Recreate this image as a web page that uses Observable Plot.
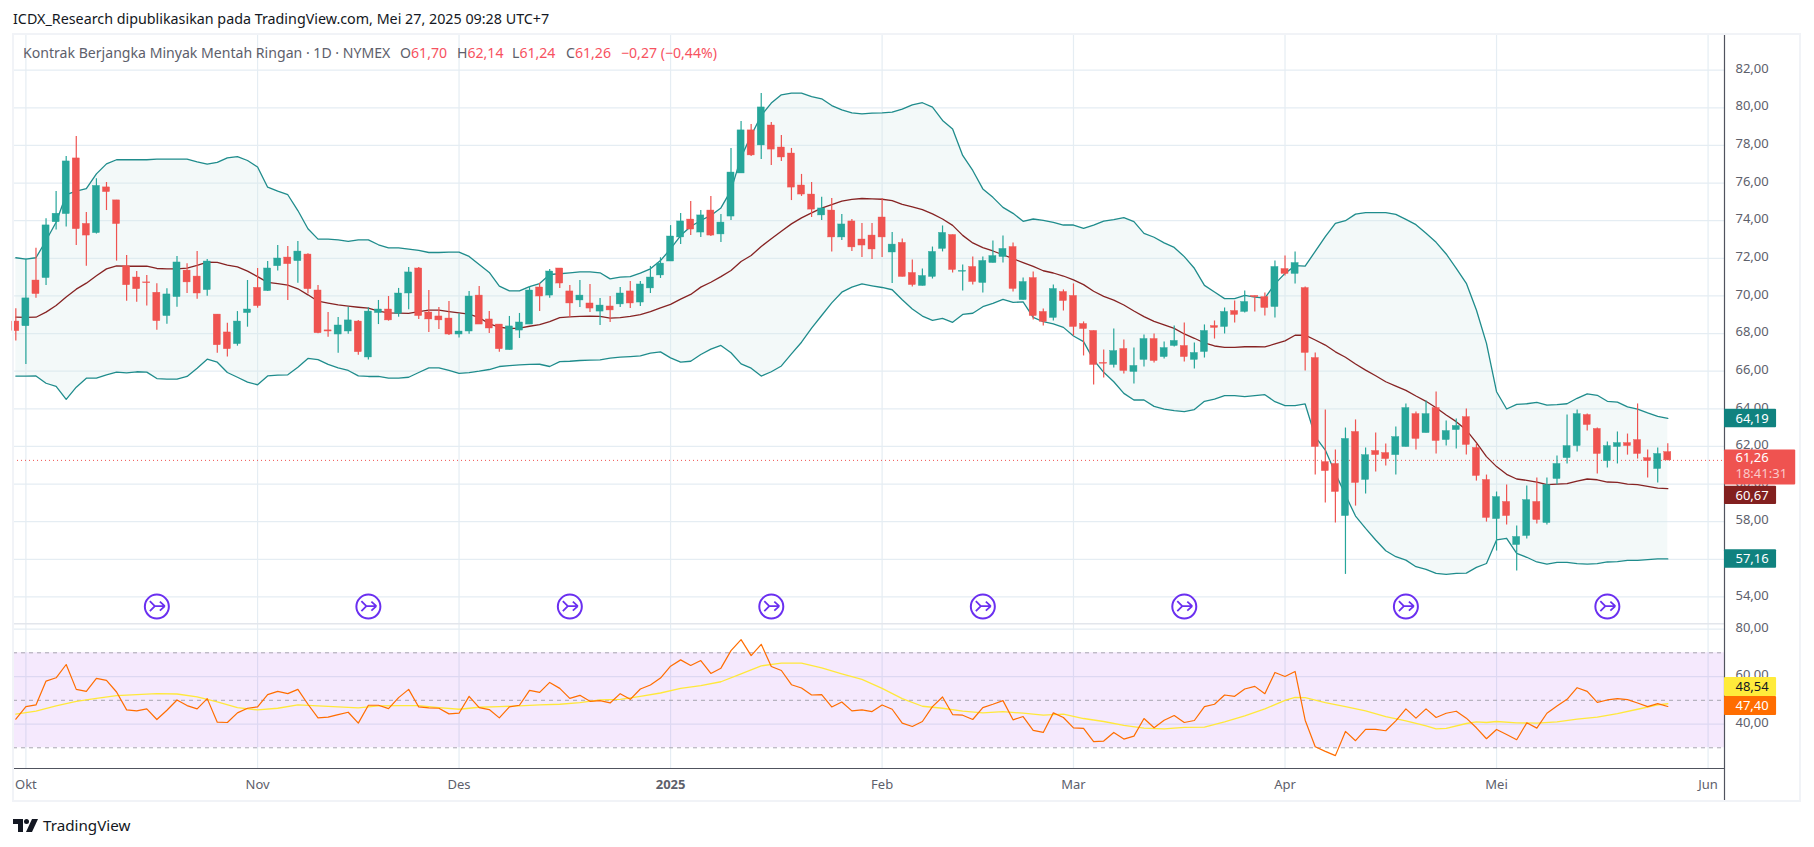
<!DOCTYPE html>
<html>
<head>
<meta charset="utf-8">
<script src="https://cdn.jsdelivr.net/npm/d3@7"></script>
<script src="https://cdn.jsdelivr.net/npm/@observablehq/plot@0.6"></script>
<style>
  html,body{margin:0;padding:0;background:#fff;}
  body{position:relative;width:1814px;height:847px;overflow:hidden;font-family:"Noto Sans",sans-serif;}
  #title{position:absolute;left:13px;top:9px;font-size:14.3px;line-height:20px;color:#131722;white-space:nowrap;}
  #legend{position:absolute;left:23px;top:43px;font-size:14.1px;line-height:20px;color:#5d606b;white-space:nowrap;z-index:3;}
  #legend b{font-weight:400;color:#f7525f;}
  #legend i{font-style:normal;display:inline-block;}
  #frame{position:absolute;left:12px;top:33px;width:1789px;height:769px;box-sizing:border-box;border:2px solid #f1f3f7;z-index:2;pointer-events:none;}
  #price,#rsi{position:absolute;left:0;}
  #price{top:33px;} #rsi{top:623px;}
  #brand{position:absolute;left:13px;top:815px;display:flex;align-items:center;font-size:15.2px;color:#131722;}
  #brand svg{margin-right:5px;}
</style>
</head>
<body>
<div id="title">ICDX_Research dipublikasikan pada TradingView.com, Mei 27, 2025 09:28 UTC+7</div>
<div id="legend"><i style="width:377px">Kontrak Berjangka Minyak Mentah Ringan · 1D · NYMEX</i><i style="width:57px">O<b>61,70</b></i><i style="width:55px">H<b>62,14</b></i><i style="width:54px">L<b>61,24</b></i><i style="width:55px">C<b>61,26</b></i><i><b>−0,27 (−0,44%)</b></i></div>
<div id="price"></div>
<div id="rsi"></div>
<div id="frame"></div>
<div id="brand"><svg width="25" height="13" viewBox="0 0 25 13"><path fill="#131722" d="M0 0H10V13H5V5H0Z"/><circle fill="#131722" cx="13.5" cy="2.5" r="2.5"/><path fill="#131722" d="M19 0H25L19 13H13Z"/></svg>TradingView</div>
<script>
const opens = [68.64,68.39,70.82,70.95,73.92,74.35,77.31,73.83,73.34,75.77,
75.08,71.57,70.98,70.72,70.17,68.93,69.94,71.35,71.03,70.31,
69.01,68.06,67.44,69.09,70.43,70.26,71.58,72.04,71.85,72.20,
70.29,68.17,67.95,68.11,68.64,66.73,69.09,69.28,69.05,70.13,
71.46,69.12,68.91,68.80,67.95,68.11,70.02,68.75,68.48,67.12,
68.16,68.48,70.45,70.02,71.46,70.24,69.76,69.60,69.17,69.44,
69.55,70.24,69.65,70.40,71.09,71.83,73.11,74.06,73.37,74.54,
73.27,74.22,76.51,78.80,78.00,79.06,77.89,77.57,75.87,75.39,
74.28,74.54,73.11,73.96,73.00,73.21,74.17,72.31,72.82,71.22,
70.53,71.01,72.50,73.24,71.29,71.54,70.69,71.75,72.07,72.60,
69.78,70.95,69.15,68.83,70.21,70.00,68.51,68.14,66.44,66.33,
67.18,65.96,66.60,67.71,66.75,67.34,67.34,66.60,67.02,68.40,
68.35,69.20,69.15,70.00,69.94,69.41,71.43,71.17,70.42,66.70,
61.17,61.07,58.30,62.77,60.22,61.76,61.65,61.54,61.97,63.72,
62.71,64.04,62.34,62.87,63.56,61.92,60.22,58.14,59.05,56.76,
57.24,59.05,57.93,60.27,61.38,62.02,63.67,62.93,61.22,61.97,
62.18,62.34,61.38,60.80,61.70];
const highs = [69.32,71.97,72.54,74.10,75.55,77.41,78.48,74.44,76.23,76.03,
75.08,72.15,71.30,71.09,70.65,70.38,72.10,71.71,72.36,71.94,
69.01,68.55,69.17,70.82,71.46,71.83,72.68,72.63,72.90,72.24,
70.56,69.12,68.86,69.40,68.70,69.37,69.76,69.97,70.40,71.51,
71.51,70.29,69.39,69.71,69.05,70.24,70.50,69.17,68.48,68.91,
69.07,70.50,70.66,71.41,71.46,70.55,70.82,70.61,69.86,69.97,
70.45,70.77,70.77,71.57,72.03,73.74,74.38,75.02,74.54,75.29,
74.33,77.84,79.27,79.11,80.76,79.22,78.53,77.84,76.46,76.03,
75.24,75.18,74.33,74.06,73.85,73.85,75.18,73.37,73.03,71.91,
71.43,72.60,73.72,73.24,71.65,72.07,72.07,72.92,73.19,72.82,
70.95,71.27,69.31,70.58,70.32,70.64,68.62,68.14,67.13,68.24,
67.66,67.23,67.92,67.98,67.55,68.40,68.56,67.50,68.46,68.67,
69.36,69.73,70.26,70.00,70.16,71.86,72.12,72.34,70.48,66.97,
63.94,61.81,62.98,63.41,61.92,62.71,62.13,63.03,64.26,63.83,
64.41,64.89,63.35,63.46,63.99,62.13,60.48,59.58,59.95,57.77,
59.90,60.32,60.32,61.49,63.67,63.94,63.72,62.98,62.24,62.77,
62.66,64.26,61.81,61.92,62.14];
const lows = [67.60,66.36,69.88,70.56,73.50,73.66,72.68,71.58,73.29,74.54,
71.85,69.72,69.67,69.46,68.18,68.50,69.40,70.13,69.83,69.99,
66.96,66.75,67.33,68.34,69.35,70.24,71.32,69.76,70.68,70.11,
67.99,67.81,66.96,67.97,66.85,66.59,68.48,68.66,68.87,69.26,
68.75,68.06,68.22,67.90,67.76,67.97,68.48,68.00,67.01,67.12,
67.74,68.48,69.17,69.88,70.40,68.85,69.39,69.12,68.43,68.59,
69.39,69.33,69.44,70.13,70.93,71.83,72.73,73.21,73.11,73.16,
72.84,74.01,76.51,77.41,77.25,76.93,77.15,75.07,75.29,74.17,
74.01,72.34,72.95,72.36,72.04,71.94,72.04,70.66,71.01,70.48,
70.53,70.90,72.34,71.22,70.26,70.58,70.16,71.75,71.75,70.21,
69.78,68.72,68.40,68.67,69.20,67.87,66.81,65.27,65.64,66.17,
65.85,65.32,66.22,66.44,66.65,67.29,66.49,66.12,66.70,67.71,
67.98,68.56,69.09,69.15,68.93,68.83,71.06,70.64,66.01,60.48,
58.99,57.93,55.20,58.83,59.47,60.64,60.96,60.48,61.97,61.81,
62.71,61.60,62.02,61.86,61.54,60.16,57.98,56.44,57.82,55.38,
57.08,57.88,57.82,59.95,61.07,61.70,62.82,60.53,60.85,61.07,
61.54,61.33,60.32,60.06,61.24];
const closes = [68.13,69.87,70.10,73.75,74.37,77.15,73.55,73.21,75.85,75.52,
73.82,70.57,70.36,70.68,68.66,70.08,71.78,70.72,70.13,71.83,
67.38,67.17,68.64,69.28,69.46,71.46,71.99,71.69,72.36,70.36,
68.02,68.11,68.43,68.70,67.01,69.17,69.28,68.70,70.13,71.25,
68.93,68.75,68.70,67.95,68.11,69.97,68.48,68.27,67.17,68.38,
68.59,70.29,69.97,71.30,70.66,69.60,70.02,69.33,69.49,69.23,
70.13,69.60,70.61,70.98,71.72,73.16,73.96,73.53,74.28,73.21,
73.90,76.56,78.80,77.47,80.02,77.78,77.36,75.76,75.39,74.59,
74.65,73.11,73.80,72.58,72.68,72.47,73.11,72.73,71.01,70.58,
71.06,72.34,73.35,71.38,71.33,70.74,71.86,72.12,72.50,70.37,
70.74,68.93,68.62,70.37,69.73,68.35,68.24,66.33,66.40,67.07,
66.01,66.28,67.71,66.54,67.23,67.61,66.75,66.97,68.14,68.30,
69.15,68.99,69.68,69.93,69.36,71.54,71.17,71.75,66.97,61.97,
60.69,59.58,62.40,60.06,61.54,61.54,61.33,62.50,64.04,62.40,
63.72,62.29,62.82,63.09,62.08,60.43,58.20,59.31,58.30,57.19,
59.15,58.09,59.95,61.07,62.02,63.72,63.14,61.60,62.02,62.18,
62.02,61.60,61.22,61.60,61.26];
const bbUpper = [72.03,71.96,72.03,72.95,73.92,75.38,75.57,75.70,76.49,77.02,
77.24,77.24,77.24,77.24,77.27,77.27,77.27,77.27,77.13,77.01,
77.10,77.34,77.41,77.20,76.85,75.78,75.57,75.38,74.54,73.57,
73.02,73.02,72.98,72.90,72.98,72.98,72.72,72.56,72.56,72.49,
72.42,72.31,72.31,72.33,72.33,72.10,71.67,71.25,70.52,70.27,
70.27,70.50,70.66,71.14,71.18,71.23,71.28,71.28,71.23,70.91,
71.00,71.03,71.21,71.44,71.88,72.50,73.21,73.69,74.01,74.28,
74.68,75.61,77.38,78.53,79.59,80.25,80.69,80.78,80.78,80.60,
80.48,80.12,79.89,79.73,79.68,79.72,79.73,79.77,79.93,80.16,
80.27,80.04,79.33,78.87,77.47,76.67,75.69,75.24,74.71,74.39,
73.97,74.09,74.02,73.91,73.77,73.77,73.59,73.77,73.98,74.06,
74.16,73.95,73.33,73.12,72.82,72.58,72.09,71.47,70.56,70.21,
69.86,69.86,70.03,69.94,69.89,70.64,71.20,71.61,71.59,72.37,
73.15,73.86,74.00,74.35,74.43,74.43,74.43,74.34,74.07,73.79,
73.33,72.85,72.23,71.47,70.67,69.25,67.48,64.91,63.99,64.24,
64.27,64.34,64.20,64.22,64.27,64.56,64.79,64.72,64.40,64.36,
64.10,63.99,63.78,63.60,63.49];
const bbBasis = [68.87,68.86,68.87,69.14,69.49,69.94,70.36,70.68,71.07,71.44,
71.60,71.58,71.58,71.58,71.46,71.44,71.44,71.48,71.62,71.80,
71.78,71.64,71.55,71.32,71.03,70.72,70.65,70.57,70.38,70.06,
69.72,69.62,69.53,69.46,69.40,69.35,69.19,69.10,69.09,69.07,
69.17,69.25,69.25,69.17,69.10,69.03,68.85,68.52,68.34,68.27,
68.29,68.39,68.48,68.64,68.85,68.89,68.91,68.92,68.91,68.82,
68.85,68.91,69.01,69.17,69.37,69.55,69.83,70.08,70.47,70.73,
71.03,71.35,71.83,72.15,72.63,73.04,73.44,73.83,74.15,74.42,
74.67,74.86,75.04,75.13,75.18,75.16,75.14,75.07,74.87,74.73,
74.59,74.36,74.09,73.75,73.22,72.82,72.57,72.39,72.19,71.98,
71.77,71.57,71.34,71.22,71.06,70.85,70.60,70.25,69.98,69.78,
69.52,69.20,68.90,68.65,68.46,68.28,67.98,67.75,67.50,67.34,
67.27,67.27,67.30,67.30,67.29,67.45,67.61,67.91,67.92,67.66,
67.39,67.03,66.74,66.38,66.06,65.76,65.44,65.21,64.98,64.68,
64.40,64.06,63.67,63.32,62.87,62.20,61.46,60.93,60.52,60.27,
60.20,60.11,59.97,60.00,60.02,60.16,60.27,60.23,60.11,60.09,
60.00,59.97,59.88,59.79,59.76];
const bbLower = [65.74,65.74,65.75,65.36,65.19,64.50,65.15,65.63,65.63,65.81,
65.95,65.91,65.97,65.95,65.61,65.58,65.58,65.72,66.16,66.64,
66.48,65.93,65.68,65.42,65.28,65.75,65.79,65.81,66.21,66.68,
66.62,66.36,66.18,66.04,65.75,65.72,65.72,65.63,65.63,65.68,
65.93,66.18,66.18,66.04,65.88,65.93,66.00,66.09,66.25,66.30,
66.34,66.36,66.37,66.25,66.51,66.53,66.57,66.59,66.60,66.69,
66.75,66.78,66.82,66.96,67.03,66.71,66.48,66.53,66.89,67.17,
67.37,66.98,66.39,66.16,65.74,65.97,66.28,66.92,67.54,68.29,
68.96,69.63,70.20,70.47,70.64,70.54,70.45,70.33,69.80,69.31,
68.93,68.70,68.81,68.60,69.02,69.08,69.43,69.61,69.82,69.66,
69.68,68.86,68.63,68.51,68.33,67.87,67.57,66.60,65.94,65.44,
64.82,64.47,64.47,64.13,63.99,63.90,63.85,63.96,64.40,64.52,
64.70,64.70,64.65,64.70,64.75,64.38,64.17,64.17,64.26,62.52,
61.81,60.57,59.42,58.30,57.65,57.03,56.46,56.14,55.96,55.61,
55.47,55.25,55.20,55.25,55.27,55.57,55.78,57.03,57.12,56.32,
56.11,55.86,55.75,55.84,55.84,55.77,55.75,55.77,55.86,55.88,
55.95,55.95,55.98,56.02,56.02];
const rsi = [42.05,47.35,48.05,58.09,59.49,65.07,54.60,53.77,59.21,58.37,
53.49,45.95,45.54,46.37,41.91,45.82,50.14,47.77,46.37,50.70,
40.79,40.65,44.70,46.65,47.21,52.37,53.77,52.79,54.60,48.33,
42.61,42.89,44.00,44.98,40.37,47.91,47.91,46.51,51.12,54.60,
47.21,46.79,46.65,44.28,44.56,51.67,46.93,46.09,42.61,47.21,
47.91,54.19,53.35,57.53,55.02,50.84,52.09,49.58,49.86,48.88,
52.79,50.42,54.74,56.42,59.35,64.37,67.02,64.65,66.74,61.30,
63.53,70.93,75.53,68.83,73.58,64.23,62.56,56.56,55.16,52.23,
52.37,47.21,49.30,45.54,45.95,45.26,48.05,46.23,40.37,38.98,
41.07,47.35,51.40,44.00,43.72,41.91,46.93,48.33,49.86,41.77,
43.16,37.31,36.47,44.70,42.75,38.42,38.14,32.56,32.84,36.47,
33.68,34.93,42.33,38.42,41.63,43.58,40.65,41.49,47.35,48.33,
52.23,51.67,54.74,55.86,52.79,61.72,60.04,62.14,41.63,30.47,
28.51,26.70,36.89,32.98,37.72,37.72,37.17,41.35,46.37,42.47,
46.37,42.75,44.56,45.40,42.47,38.42,33.82,37.72,35.63,33.40,
40.51,38.28,44.56,47.63,50.42,55.30,53.77,49.16,50.14,50.70,
50.28,48.88,47.35,48.60,47.40];
const rsiMaBars = [0,2,4,6,8,10,12,14,16,18,20,22,24,26,28,30,32,34,36,38,40,42,44,46,48,50,52,54,56,58,60,
62,64,66,68,70,72,74,76,78,80,82,84,86,88,90,92,94,96,98,100,102,104,106,108,110,112,114,116,118,120,122,124,126,127,128,
130,132,134,136,138,140,141,142,144,145,146,147,149,151,153,155,157,159,161,163,164];
const rsiMaValues = [44.14,45.40,47.63,49.58,50.84,51.95,52.37,52.79,52.65,51.40,49.30,46.93,45.95,46.65,48.05,47.63,47.21,46.79,47.63,47.77,47.77,46.93,46.23,47.07,47.35,47.63,48.05,48.33,49.02,50.14,50.42,
51.67,53.07,55.02,56.14,57.81,61.16,64.51,65.62,65.62,63.67,61.16,58.79,55.02,50.70,47.49,46.65,45.40,44.70,45.26,44.56,43.72,44.14,42.33,41.07,39.40,38.28,38.00,38.56,38.70,40.93,43.44,46.37,50.00,51.26,51.12,
49.02,47.35,45.54,43.16,41.35,39.26,38.00,38.14,40.23,40.93,40.65,41.07,40.51,40.37,40.93,42.05,42.89,44.42,46.23,48.05,48.54];

const monthBars = [1,24,44,86,105,126,147,168];
const monthNames = ["Okt","Nov","Des","Feb","Mar","Apr","Mei","Jun"];
const yearBars = [65];
const yearNames = ["2025"];
const eventBars = [14,35,55,75,96,116,138,158];
const priceTicks = [54,56,58,60,62,64,66,68,70,72,74,76,78,80,82];
const rsiTicks = [40,60,80];
const rsiDashed = [30,50,70];

const UP = "#26a69a", DOWN = "#ef5350", GRID = "#e5edf3", AXIS = "#50535e", TICK = "#5d606b";
const FONT = '"Noto Sans",sans-serif';
const xDomain = [-0.231, 169.63];
const labelEnd = 174.8, labelEndWide = 176.7;
const comma = d => d3.format(".2f")(d).replace(".", ",");
const bars = d3.range(closes.length);
const body = i => closes[i] >= opens[i] ? UP : DOWN;

// merge-arrow glyph of the event badges
const mergeArrow = {draw(c, size) {
  const s = Math.sqrt(size / Math.PI) / 12;
  const L = (a, b, d, e) => { c.moveTo(a * s, b * s); c.lineTo(d * s, e * s); };
  L(-7, -5.5, -2, -0.5); L(-2, -0.5, 8, -0.5);
  L(3, -5, 8, -0.5); L(8, -0.5, 3, 4);
  L(-7, 4.5, -2, -0.5);
}};

const priceLabels = [
  {top:63.98, bottom:62.99, text:"64,19", y:63.49, bg:"#10827f", fg:"#fff", end:labelEnd},
  {top:61.81, bottom:59.95, text:"61,26", y:61.37, bg:"#ef5350", fg:"#fff", end:labelEndWide},
  {top:59.89, bottom:58.91, text:"60,67", y:59.40, bg:"#82201f", fg:"#fff", end:labelEnd},
  {top:56.51, bottom:55.53, text:"57,16", y:56.02, bg:"#10827f", fg:"#fff", end:labelEnd}
];
const rsiLabels = [
  {top:59.6, bottom:51.6, text:"48,54", y:55.6, bg:"#ffeb3b", fg:"#131722"},
  {top:51.6, bottom:43.6, text:"47,40", y:47.6, bg:"#ff6d00", fg:"#fff"}
];

const price = Plot.plot({
  width: 1814, height: 590,
  marginLeft: 13, marginRight: 90, marginTop: 0, marginBottom: 0,
  style: {background: "transparent", fontFamily: FONT, fontSize: "13px"},
  x: {domain: xDomain, axis: null},
  y: {domain: [52.59, 83.95]},
  color: {type: "identity"},
  marks: [
    Plot.ruleY(priceTicks, {stroke: GRID, strokeWidth: 1.2}),
    Plot.ruleX(monthBars.concat(yearBars), {stroke: GRID, strokeWidth: 1.2}),
    Plot.areaY(bars, {x: i => i, y1: i => bbLower[i], y2: i => bbUpper[i], fill: "#d5e9e9", fillOpacity: 0.28}),
    Plot.line(bars, {x: i => i, y: i => bbUpper[i], stroke: "#1f8c8c", strokeWidth: 1.3}),
    Plot.line(bars, {x: i => i, y: i => bbLower[i], stroke: "#1f8c8c", strokeWidth: 1.3}),
    Plot.line(bars, {x: i => i, y: i => bbBasis[i], stroke: "#862323", strokeWidth: 1.3}),
    Plot.ruleY([closes[closes.length - 1]], {stroke: DOWN, strokeWidth: 1, strokeDasharray: "1 3"}),
    Plot.ruleX(bars, {x: i => i, y1: i => lows[i], y2: i => highs[i], stroke: body, strokeWidth: 1.2}),
    Plot.rect(bars, {x1: i => i - 0.35, x2: i => i + 0.35, y1: i => opens[i], y2: i => closes[i], fill: body, stroke: body, strokeWidth: 0.4}),
    Plot.dot(eventBars, {x: i => i, y: 53.49, r: 12, stroke: "#6a2ff0", strokeWidth: 2, fill: "#fff"}),
    Plot.dot(eventBars, {x: i => i, y: 53.49, r: 12, symbol: mergeArrow, stroke: "#6a2ff0", strokeWidth: 1.8, fill: "none"}),
    Plot.ruleX([xDomain[1]], {stroke: AXIS, strokeWidth: 1.2}),
    Plot.axisY(priceTicks, {anchor: "right", tickSize: 0, tickPadding: 11, tickFormat: comma, fontSize: 13, fill: TICK, label: null, dy: -1.5}),
    Plot.rect(priceLabels, {x1: xDomain[1], x2: "end", y1: "bottom", y2: "top", fill: "bg", rx: 1}),
    Plot.text(priceLabels, {x: xDomain[1], y: "y", text: "text", dx: 11, textAnchor: "start", fill: "fg", fontSize: 13}),
    Plot.text(["18:41:31"], {x: xDomain[1], y: 60.53, dx: 11, textAnchor: "start", fill: "#fff", fillOpacity: 0.7, fontSize: 13})
  ]
});
document.getElementById("price").appendChild(price);

const rsiBottom = 21.28, rsiTop = 82.34, frameBottom = 6.96;
const rsiPlot = Plot.plot({
  width: 1814, height: 179,
  marginLeft: 13, marginRight: 90, marginTop: 0, marginBottom: 34,
  style: {background: "transparent", fontFamily: FONT, fontSize: "13px"},
  x: {domain: xDomain},
  y: {domain: [rsiBottom, rsiTop]},
  color: {type: "identity"},
  marks: [
    Plot.ruleY(rsiTicks, {stroke: GRID, strokeWidth: 1.2}),
    Plot.ruleX(monthBars.concat(yearBars), {stroke: GRID, strokeWidth: 1.2}),
    Plot.rect([0], {x1: xDomain[0], x2: xDomain[1], y1: 30, y2: 70, fill: "#9c27f0", fillOpacity: 0.1}),
    Plot.ruleY(rsiDashed, {stroke: "#a7a5b0", strokeWidth: 1, strokeDasharray: "4 4"}),
    Plot.line(rsiMaBars, {x: i => i, y: (d, k) => rsiMaValues[k], stroke: "#ffe83b", strokeWidth: 1.3}),
    Plot.line(bars, {x: i => i, y: i => rsi[i], stroke: "#ff6d00", strokeWidth: 1.2}),
    Plot.ruleY([rsiTop], {stroke: "#e3e6ec", strokeWidth: 2}),
    Plot.ruleY([rsiBottom], {stroke: AXIS, strokeWidth: 1.2}),
    Plot.ruleX([xDomain[1]], {y1: frameBottom, y2: rsiTop, stroke: AXIS, strokeWidth: 1.2}),
    Plot.axisY(rsiTicks, {anchor: "right", tickSize: 0, tickPadding: 11, tickFormat: comma, fontSize: 13, fill: TICK, label: null, dy: -1.5}),
    Plot.axisX(monthBars, {tickSize: 0, tickPadding: 11, tickFormat: i => monthNames[monthBars.indexOf(i)], fontSize: 13, fill: TICK, label: null}),
    Plot.axisX(yearBars, {tickSize: 0, tickPadding: 11, tickFormat: i => yearNames[yearBars.indexOf(i)], fontSize: 13, fontWeight: 700, fill: TICK, label: null}),
    Plot.rect(rsiLabels, {x1: xDomain[1], x2: labelEnd, y1: "bottom", y2: "top", fill: "bg", rx: 1}),
    Plot.text(rsiLabels, {x: xDomain[1], y: "y", text: "text", dx: 11, textAnchor: "start", fill: "fg", fontSize: 13})
  ]
});
document.getElementById("rsi").appendChild(rsiPlot);
</script>
</body>
</html>
